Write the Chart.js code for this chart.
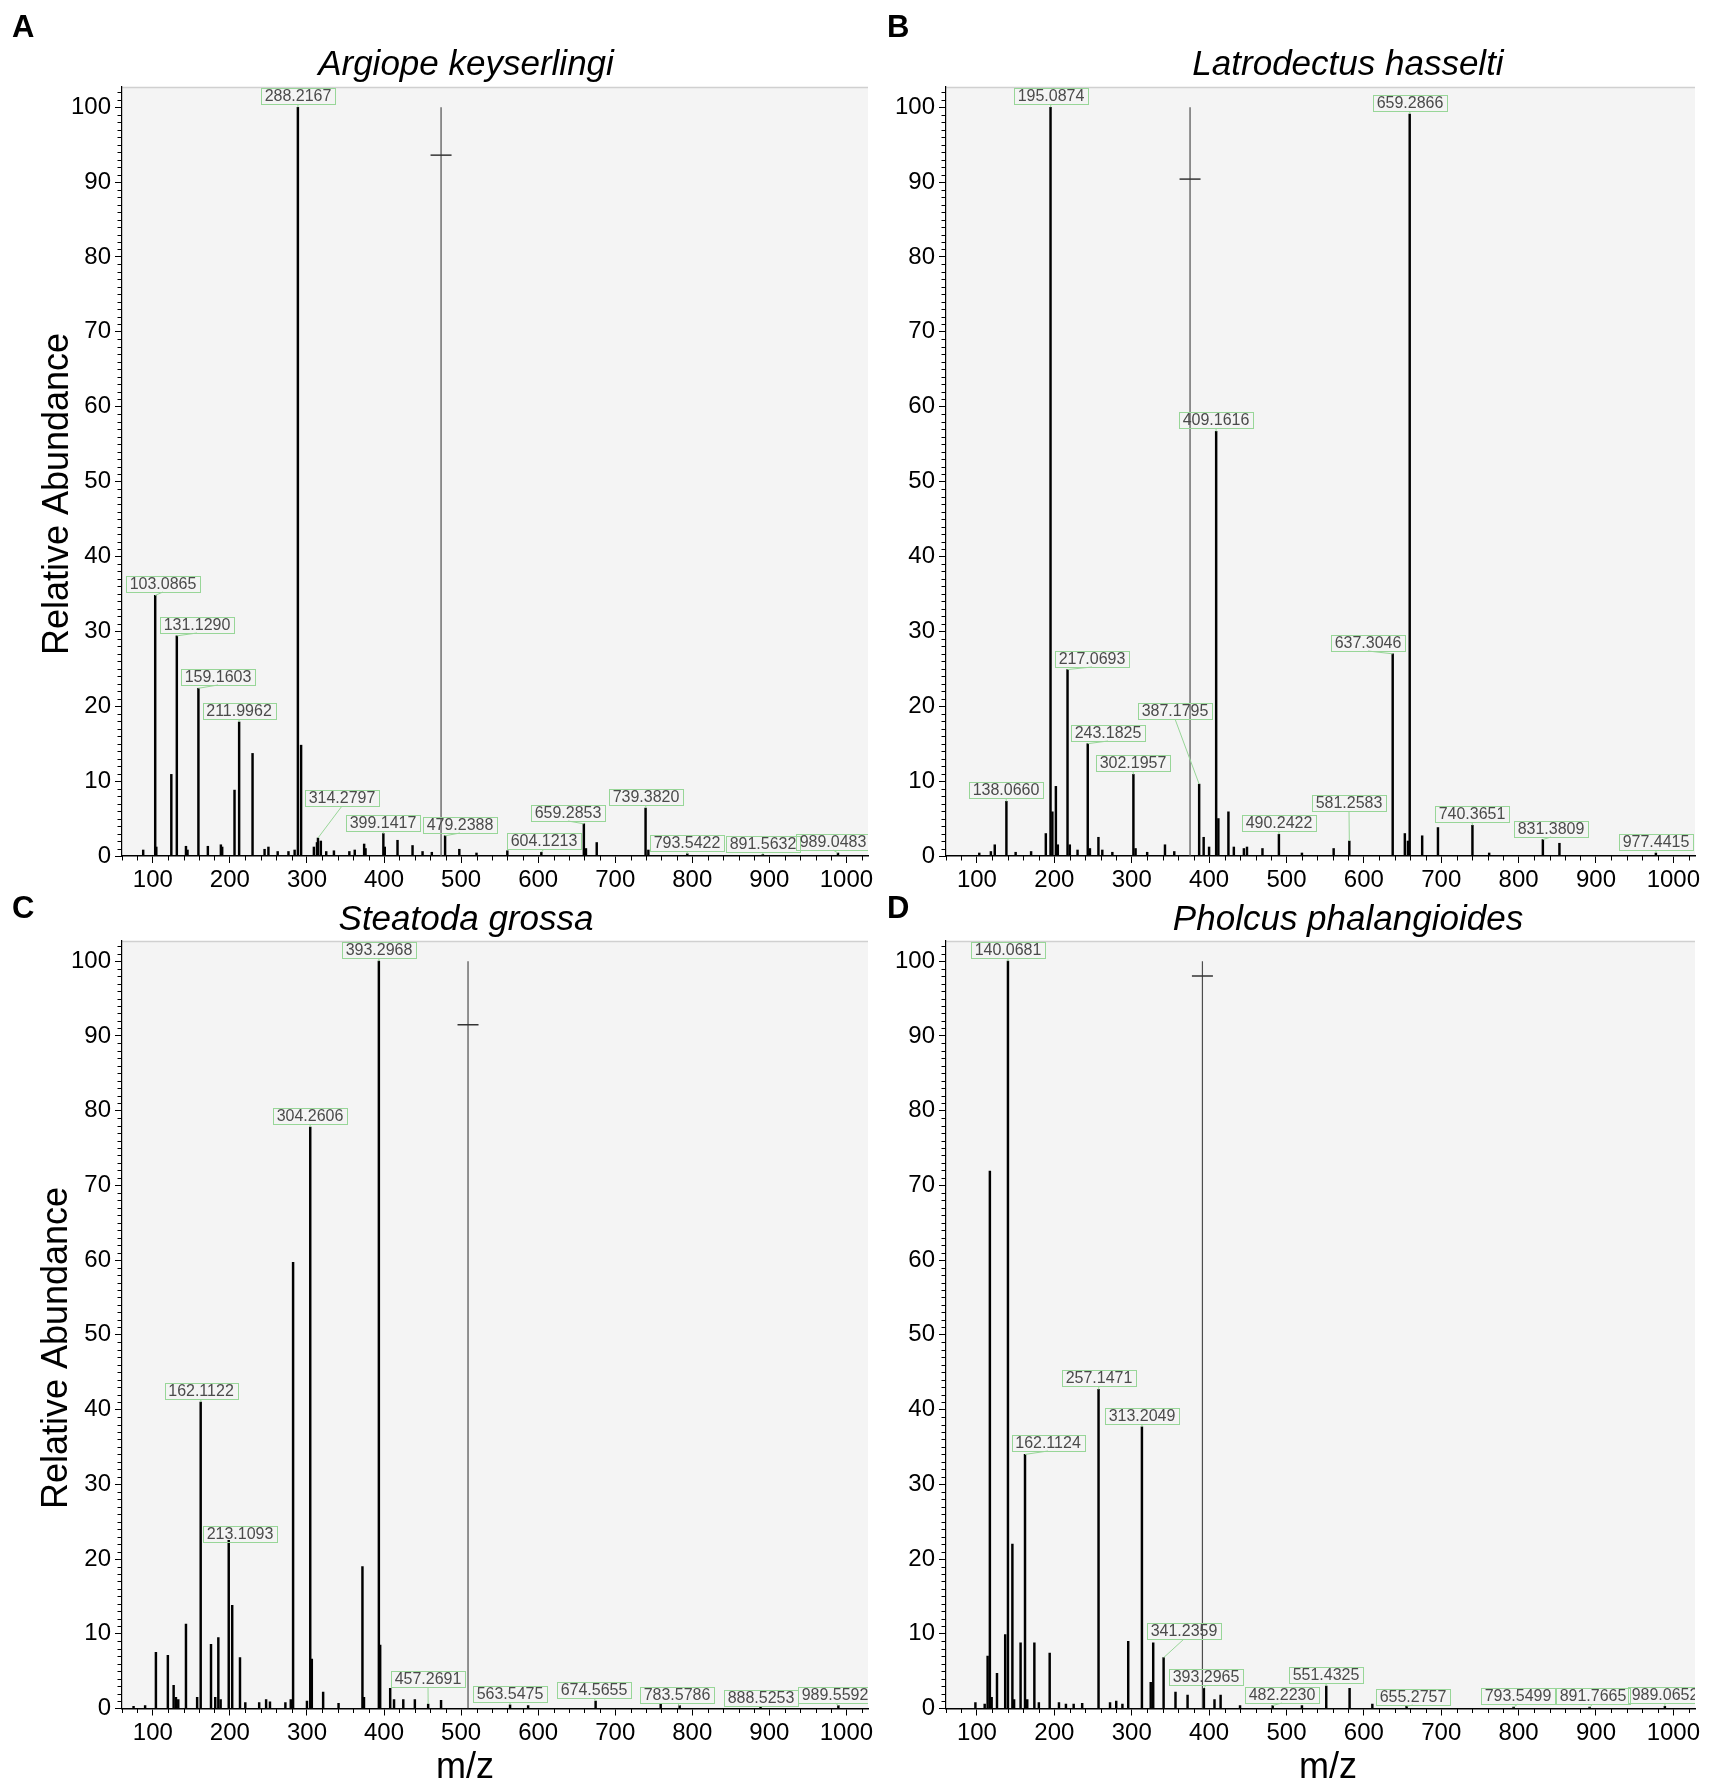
<!DOCTYPE html>
<html>
<head>
<meta charset="utf-8">
<title>MS/MS spectra of four spider venoms</title>
<script src="https://cdn.jsdelivr.net/npm/chart.js@4.4.1/dist/chart.umd.min.js"></script>
<style>
  html, body { margin: 0; padding: 0; background: #fff; }
  #wrap { position: relative; width: 1717px; height: 1792px; overflow: hidden; }
  canvas { position: absolute; }
</style>
</head>
<body>
<div id="wrap">
  <canvas id="panelA" width="880" height="895" style="left:0;top:0"></canvas>
  <canvas id="panelB" width="837" height="895" style="left:880px;top:0"></canvas>
  <canvas id="panelC" width="880" height="912" style="left:0;top:880px"></canvas>
  <canvas id="panelD" width="837" height="912" style="left:880px;top:880px"></canvas>
</div>
<script>
const FONT = '"Liberation Sans", Arial, Helvetica, sans-serif';
Chart.defaults.font.family = FONT;
Chart.defaults.color = '#000';

// axis tick labels
const xTicks = [100, 200, 300, 400, 500, 600, 700, 800, 900, 1000];
const yTicks = [0, 10, 20, 30, 40, 50, 60, 70, 80, 90, 100];

// A - Argiope keyserlingi
const mzA = [87.5, 103.0865, 104.5, 124, 131.129, 143, 145, 159.1603, 171.4, 188.3, 190, 206, 211.9962, 229.4, 245, 250, 262, 276, 284, 288.2167, 292.4, 309, 313, 314.2797, 318, 325, 335, 355, 362, 374.2, 376, 399.1417, 401, 417.5, 437, 450, 462, 479.2388, 497.7, 520, 560, 604.1213, 659.2853, 662, 676, 739.382, 743, 793.5422, 891.5632, 989.0483];
const abA = [0.8, 34.8, 1.2, 10.9, 29.4, 1.3, 0.8, 22.4, 1.3, 1.5, 1.2, 8.8, 17.9, 13.7, 0.9, 1.2, 0.6, 0.6, 0.8, 100, 14.8, 1.2, 1.8, 2.4, 2.0, 0.6, 0.7, 0.6, 0.8, 1.6, 1.0, 3.0, 1.2, 2.1, 1.4, 0.6, 0.5, 2.7, 0.9, 0.4, 0.7, 0.5, 4.3, 1.0, 1.8, 6.4, 0.8, 0.3, 0.2, 0.4];
const labelsA = ['103.0865', '131.1290', '159.1603', '211.9962', '288.2167', '314.2797', '399.1417', '479.2388', '604.1213', '659.2853', '739.3820', '793.5422', '891.5632', '989.0483'];
const precA = 474;
const markA = 93.6;

// B - Latrodectus hasselti
const mzB = [103, 118, 123, 138.066, 150, 170, 189, 195.0874, 197.5, 202, 204.5, 217.0693, 220, 230, 243.1825, 246, 257, 262, 275, 302.1957, 305, 320, 343, 355, 387.1795, 393, 400, 409.1616, 412, 425, 432, 445, 449, 469, 490.2422, 520, 561, 581.2583, 637.3046, 653, 657, 659.2866, 675.4, 695.8, 740.3651, 762, 831.3809, 852.8, 977.4415];
const abB = [0.4, 0.6, 1.5, 7.3, 0.5, 0.6, 3.0, 100, 5.9, 9.3, 1.5, 24.9, 1.5, 0.8, 15.0, 1.0, 2.5, 0.8, 0.5, 10.9, 1.0, 0.5, 1.5, 0.6, 9.6, 2.5, 1.2, 56.7, 5.0, 5.9, 1.2, 1.0, 1.2, 1.0, 2.9, 0.4, 1.0, 2.0, 27.0, 3.0, 2.0, 99.1, 2.7, 3.8, 4.1, 0.4, 2.2, 1.7, 0.4];
const labelsB = ['138.0660', '195.0874', '217.0693', '243.1825', '302.1957', '387.1795', '409.1616', '490.2422', '581.2583', '637.3046', '659.2866', '740.3651', '831.3809', '977.4415'];
const precB = 375.4;
const markB = 90.4;

// C - Steatoda grossa
const mzC = [75, 90, 104, 119.5, 127, 130, 133, 143, 157.5, 162.1122, 175.5, 181, 185, 188, 198.5, 203, 213.1093, 220, 238, 247, 252, 272, 279, 282, 300, 304.2606, 306.3, 321, 341, 372, 374, 393.2968, 395, 408, 413, 425, 440, 457.2691, 474, 563.5475, 587, 674.5655, 759, 783.5786, 888.5253, 989.5592];
const abC = [0.3, 0.4, 7.5, 7.1, 3.1, 1.5, 1.2, 11.3, 1.5, 41.0, 8.6, 1.5, 9.5, 1.2, 22.5, 13.8, 6.8, 0.8, 0.8, 1.2, 0.9, 0.8, 1.2, 59.7, 1.0, 77.8, 6.6, 2.2, 0.7, 19.0, 1.5, 100, 8.5, 2.7, 1.2, 1.2, 1.2, 0.6, 1.1, 0.5, 0.4, 1.0, 0.6, 0.4, 0.2, 0.4];
const labelsC = ['162.1122', '213.1093', '304.2606', '393.2968', '457.2691', '563.5475', '674.5655', '783.5786', '888.5253', '989.5592'];
const precC = 509;
const markC = 91.5;

// D - Pholcus phalangioides
const mzD = [98, 110, 113.8, 116.7, 119, 125.9, 136.5, 140.0681, 145.8, 148, 156.4, 162.1124, 165, 174.2, 180, 194, 206, 215, 225, 236, 257.1471, 272, 280, 288, 295.5, 313.2049, 324.6, 327.8, 341.2359, 356.6, 372.2, 393.2965, 407, 414.9, 440, 482.223, 520, 551.4325, 581.6, 611, 655.2757, 793.5499, 891.7665, 989.0652];
const abD = [0.8, 0.6, 7.0, 71.9, 1.5, 4.7, 9.9, 100, 22.0, 1.2, 8.8, 34.0, 1.2, 8.8, 0.8, 7.4, 0.8, 0.6, 0.6, 0.7, 42.7, 0.8, 1.0, 0.6, 9.0, 37.7, 3.5, 8.8, 6.8, 2.2, 1.8, 2.7, 1.2, 1.8, 0.4, 0.4, 0.4, 3.0, 2.7, 0.6, 0.3, 0.2, 0.2, 0.3];
const labelsD = ['140.0681', '162.1124', '257.1471', '313.2049', '341.2359', '393.2965', '482.2230', '551.4325', '655.2757', '793.5499', '891.7665', '989.0652'];
const precD = 391.4;
const markD = 98.0;

// label box placement: [shift right px, extra lift px, draw leader (0 = no)]
const nudgeA = [[8, 0], [20, 0], [20, 0], [0, 0], [0, 0], [24, 29], [0, 0], [15, 0], [3, 0], [-16, 0], [0, 0], [0, 0], [0, 0], [-5, 0]];
const nudgeB = [[0, 0], [0, 0], [24, 0], [20, 0], [0, 0], [-24, 62], [0, 0], [0, 0], [0, 27], [-25, 0], [0, 0], [0, 0], [8, 0], [0, 0]];
const nudgeC = [[0, 0], [0, 113, 0], [0, 0], [0, 0], [0, 14], [0, 0], [-2, 0], [-3, 0], [0, -2], [-3, 0]];
const nudgeD = [[0, 0], [23, 0], [0, 0], [0, 0], [20, 16], [2, 0], [9, 0], [0, 0], [6, -2], [4, 0], [3, 0], [0, 0]];

const plotBg = {
  id: 'plotBg',
  beforeDraw(chart) {
    const { ctx, chartArea: a } = chart;
    ctx.save();
    ctx.fillStyle = '#f4f4f4';
    ctx.fillRect(a.left, a.top, a.right - a.left, a.bottom - a.top);
    ctx.strokeStyle = '#d0d0d0';
    ctx.lineWidth = 1.5;
    ctx.beginPath();
    ctx.moveTo(a.left, a.top + 0.5);
    ctx.lineTo(a.right, a.top + 0.5);
    ctx.stroke();
    ctx.restore();
  }
};

// small ticks between the labelled ones
const minorTicks = {
  id: 'minorTicks',
  afterDraw(chart) {
    const { ctx, chartArea: a, scales: { x, y } } = chart;
    ctx.save();
    ctx.strokeStyle = '#000';
    ctx.lineWidth = 1;
    ctx.beginPath();
    for (let v = 1; v <= 102; v++) {
      if (v % 10 === 0) continue;
      const py = Math.round(y.getPixelForValue(v)) + 0.5;
      ctx.moveTo(a.left - 4.5, py);
      ctx.lineTo(a.left, py);
    }
    for (let v = 60; v <= 1020; v += 20) {
      if (v % 100 === 0) continue;
      const px = Math.round(x.getPixelForValue(v)) + 0.5;
      ctx.moveTo(px, a.bottom);
      ctx.lineTo(px, a.bottom + 4.5);
    }
    ctx.stroke();
    ctx.restore();
  }
};

function makePanel(id, p) {
  const sticks = p.mz.map((m, i) => ({ x: m, y: p.ab[i] }));

  const peakLabels = {
    id: 'peakLabels',
    afterDatasetsDraw(chart) {
      const { ctx, chartArea: a, scales: { x, y } } = chart;
      ctx.save();
      ctx.beginPath();
      ctx.rect(a.left, a.top, a.right - a.left, a.bottom - a.top);
      ctx.clip();
      ctx.font = '16px ' + FONT;
      ctx.textAlign = 'center';
      ctx.textBaseline = 'middle';
      ctx.lineWidth = 1;
      p.labels.forEach((txt, i) => {
        const mz = parseFloat(txt);
        const pk = sticks.find(s => Math.abs(s.x - mz) < 1e-6);
        const px = x.getPixelForValue(pk.x);
        const top = y.getPixelForValue(pk.y);
        const [dx, lift, lead] = p.nudge[i];
        const w = Math.round(ctx.measureText(txt).width) + 7;
        const h = 16;
        const cx = Math.round(px + dx);
        const bottom = Math.round(top - 3 - lift);
        ctx.strokeStyle = '#98d698';
        if (lead !== 0) {
          ctx.beginPath();
          ctx.moveTo(px, top);
          ctx.lineTo(cx, bottom);
          ctx.stroke();
        }
        ctx.strokeRect(Math.round(cx - w / 2) + 0.5, bottom - h + 0.5, w, h);
        ctx.fillStyle = '#4a4a4a';
        ctx.fillText(txt, cx, bottom - h / 2 + 1);
      });
      ctx.restore();
    }
  };

  const panelText = {
    id: 'panelText',
    afterDraw(chart) {
      const ctx = chart.ctx;
      ctx.save();
      ctx.fillStyle = '#000';
      ctx.textBaseline = 'alphabetic';
      ctx.textAlign = 'left';
      ctx.font = 'bold 31px ' + FONT;
      ctx.fillText(p.letter, p.letterAt[0], p.letterAt[1]);
      ctx.textAlign = 'center';
      ctx.font = 'italic 35px ' + FONT;
      ctx.fillText(p.title, p.titleAt[0], p.titleAt[1]);
      if (p.yTitleAt) {
        ctx.save();
        ctx.translate(p.yTitleAt[0], p.yTitleAt[1]);
        ctx.rotate(-Math.PI / 2);
        ctx.font = '36px ' + FONT;
        ctx.textBaseline = 'middle';
        ctx.fillText('Relative Abundance', 0, 0);
        ctx.restore();
      }
      if (p.xTitleAt) {
        ctx.font = '36px ' + FONT;
        ctx.fillText('m/z', p.xTitleAt[0], p.xTitleAt[1]);
      }
      ctx.restore();
    }
  };

  return new Chart(document.getElementById(id), {
    type: 'bar',
    data: {
      datasets: [
        {
          label: 'fragment ions',
          data: sticks,
          backgroundColor: '#000',
          borderWidth: 0,
          barThickness: 1.8,
          order: 3
        },
        {
          type: 'line',
          label: 'precursor',
          data: [{ x: p.prec, y: 0 }, { x: p.prec, y: 100 }],
          borderColor: '#4d4d4d',
          borderWidth: 1.2,
          pointRadius: 0,
          order: 2
        },
        {
          type: 'line',
          label: 'precursor mark',
          data: [{ x: p.prec, y: p.mark }],
          showLine: false,
          pointStyle: 'line',
          pointRadius: 10.5,
          pointBorderColor: '#333',
          pointBorderWidth: 1.5,
          order: 1
        }
      ]
    },
    options: {
      responsive: false,
      animation: false,
      devicePixelRatio: 1,
      layout: { padding: { top: p.padTop, right: p.padRight, left: 0, bottom: 0 } },
      scales: {
        x: {
          type: 'linear',
          min: 60,
          max: 1028,
          offset: false,
          afterBuildTicks: s => { s.ticks = xTicks.map(v => ({ value: v })); },
          afterFit: s => { s.height = p.xH; },
          ticks: {
            callback: v => String(v),
            font: { size: 24 },
            color: '#000',
            padding: 3,
            maxRotation: 0,
            autoSkip: false
          },
          grid: { offset: false, drawOnChartArea: false, tickLength: 7, tickColor: '#000', tickWidth: 1 },
          border: { color: '#000', width: 1.5 }
        },
        y: {
          min: 0,
          max: 102.7,
          afterBuildTicks: s => { s.ticks = yTicks.map(v => ({ value: v })); },
          afterFit: s => { s.width = p.yW; },
          ticks: {
            callback: v => String(v),
            font: { size: 24 },
            color: '#000',
            padding: 4
          },
          grid: { drawOnChartArea: false, tickLength: 7, tickColor: '#000', tickWidth: 1 },
          border: { color: '#000', width: 1.2 }
        }
      },
      plugins: {
        legend: { display: false },
        tooltip: { enabled: false }
      }
    },
    plugins: [plotBg, minorTicks, peakLabels, panelText]
  });
}

makePanel('panelA', {
  mz: mzA, ab: abA, labels: labelsA, nudge: nudgeA, prec: precA, mark: markA,
  letter: 'A', letterAt: [12, 37], title: 'Argiope keyserlingi', titleAt: [466, 75],
  yTitleAt: [58, 494],
  padTop: 87, padRight: 5, yW: 122, xH: 39
});
makePanel('panelB', {
  mz: mzB, ab: abB, labels: labelsB, nudge: nudgeB, prec: precB, mark: markB,
  letter: 'B', letterAt: [7, 37], title: 'Latrodectus hasselti', titleAt: [468, 75],
  padTop: 87, padRight: 22, yW: 66, xH: 39
});
makePanel('panelC', {
  mz: mzC, ab: abC, labels: labelsC, nudge: nudgeC, prec: precC, mark: markC,
  letter: 'C', letterAt: [12, 38], title: 'Steatoda grossa', titleAt: [466, 49.5],
  yTitleAt: [57, 468], xTitleAt: [465, 898],
  padTop: 61, padRight: 5, yW: 122, xH: 83.5
});
makePanel('panelD', {
  mz: mzD, ab: abD, labels: labelsD, nudge: nudgeD, prec: precD, mark: markD,
  letter: 'D', letterAt: [7, 38], title: 'Pholcus phalangioides', titleAt: [468, 49.5],
  xTitleAt: [448, 898],
  padTop: 61, padRight: 22, yW: 66, xH: 83.5
});
</script>
</body>
</html>
